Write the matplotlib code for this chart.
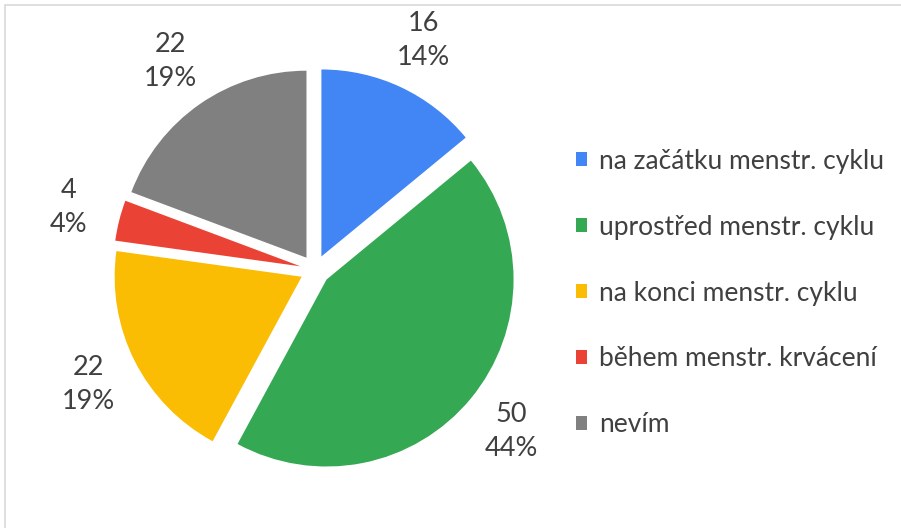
import matplotlib.pyplot as plt
from matplotlib.patches import Patch, Rectangle

# Pie chart data
categories = ['na začátku menstr. cyklu', 'uprostřed menstr. cyklu', 'na konci menstr. cyklu',
              'během menstr. krvácení', 'nevím']
counts = [16, 50, 22, 4, 22]
colors = ['#4285F4', '#34A853', '#FBBC04', '#EA4335', '#808080']

total = sum(counts)
plt.rcParams['font.family'] = ['Lato', 'DejaVu Sans']

W, H, dpi = 901, 528, 100
fig = plt.figure(figsize=(W / dpi, H / dpi), dpi=dpi)

# pie center and radius in pixels
cx, cy, R = 315, 270, 187

ax = fig.add_axes([0, 0, 1, 1])
wedges, texts, autotexts = ax.pie(
    counts,
    colors=colors,
    startangle=90,
    counterclock=False,
    explode=[0.08] * len(counts),
    autopct=lambda p: f'{round(p * total / 100)}\n{p:.0f}%',
    pctdistance=1.28,
    wedgeprops={'linewidth': 0},
    textprops={'fontsize': 19.5, 'color': '#404040', 'linespacing': 1.45},
)
ax.set_xlim(-cx / R, (W - cx) / R)
ax.set_ylim(-(H - cy) / R, cy / R)
ax.axis('off')

handles = [Patch(facecolor=c, edgecolor='none') for c in colors]
fig.legend(handles, categories, loc='center left',
           bbox_to_anchor=(576 / W, 235 / H), frameon=False,
           fontsize=19, labelcolor='#404040',
           handlelength=0.42, handleheight=0.42, handletextpad=0.45,
           labelspacing=1.55, borderpad=0, borderaxespad=0)

# light chart border (top and left visible)
fig.patches.append(Rectangle((5 / W, -0.1), 1.2, (H - 5) / H + 0.1,
                             transform=fig.transFigure, fill=False,
                             edgecolor='#d9d9d9', linewidth=1.2))

fig.savefig('out.png', dpi=dpi)
